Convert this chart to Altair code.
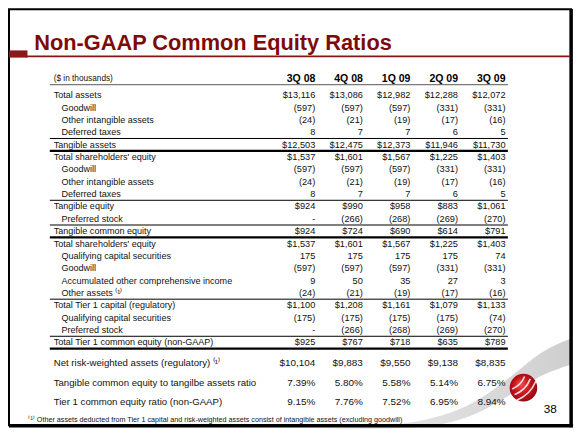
import altair as alt
import pandas as pd

# ---------------- data ----------------
periods = ["3Q 08", "4Q 08", "1Q 09", "2Q 09", "3Q 09"]

row_labels = [
    "Total assets", "Goodwill", "Other intangible assets", "Deferred taxes",
    "Tangible assets",
    "Total shareholders' equity", "Goodwill", "Other intangible assets", "Deferred taxes",
    "Tangible equity", "Preferred stock",
    "Tangible common equity",
    "Total shareholders' equity", "Qualifying capital securities", "Goodwill",
    "Accumulated other comprehensive income", "Other assets \u207d\u00b9\u207e",
    "Total Tier 1 capital (regulatory)", "Qualifying capital securities", "Preferred stock",
    "Total Tier 1 common equity (non-GAAP)",
    "Net risk-weighted assets (regulatory) \u207d\u00b9\u207e",
    "Tangible common equity to tangilbe assets ratio",
    "Tier 1 common equity ratio (non-GAAP)",
]
row_indent = [0, 1, 1, 1, 0, 0, 1, 1, 1, 0, 1, 0, 0, 1, 1, 1, 1, 0, 1, 1, 0, 0, 0, 0]
row_kind = ["$", "n", "n", "n", "$", "$", "n", "n", "n", "$", "n", "$",
            "$", "n", "n", "n", "n", "$", "n", "n", "$", "$", "%", "%"]

v_3q08 = [13116, -597, -24, 8, 12503, 1537, -597, -24, 8, 924, 0, 924,
          1537, 175, -597, 9, -24, 1100, -175, 0, 925, 10104, 7.39, 9.15]
v_4q08 = [13086, -597, -21, 7, 12475, 1601, -597, -21, 7, 990, -266, 724,
          1601, 175, -597, 50, -21, 1208, -175, -266, 767, 9883, 5.80, 7.76]
v_1q09 = [12982, -597, -19, 7, 12373, 1567, -597, -19, 7, 958, -268, 690,
          1567, 175, -597, 35, -19, 1161, -175, -268, 718, 9550, 5.58, 7.52]
v_2q09 = [12288, -331, -17, 6, 11946, 1225, -331, -17, 6, 883, -269, 614,
          1225, 175, -331, 27, -17, 1079, -175, -269, 635, 9138, 5.14, 6.95]
v_3q09 = [12072, -331, -16, 5, 11730, 1403, -331, -16, 5, 1061, -270, 791,
          1403, 74, -331, 3, -16, 1133, -74, -270, 789, 8835, 6.75, 8.94]
series = [v_3q08, v_4q08, v_1q09, v_2q09, v_3q09]

thin_after = [3, 8, 10, 16, 19]
thick_after = [4, 11, 20]

title_text = "Non-GAAP Common Equity Ratios"
units_text = "($ in thousands)"
footnote_text = ("\u207d\u00b9\u207e Other assets deducted from Tier 1 capital and risk-weighted "
                 "assets consist of intangible assets (excluding goodwill)")
page_text = "38"

# ---------------- layout / style ----------------
W, H = 567, 423
SX, SY = W / 583, H / 439
FONT = "Liberation Sans"
DARK_RED = "#7f0a0a"
TXT = "#111111"

Y0, ROWH = 90.5, 12.83
row_pos = list(range(21)) + [21.63, 23.27, 24.82]
HEADER_POS = -1.33
HEADER_LINE_POS = -0.86
lab_fs = [9.3 * SX] * 21 + [9.9 * SX] * 3
val_fs = [9.5 * SX] * 21 + [10.2 * SX] * 3

def fmt(v, kind):
    if kind == "%":
        return f"{v:.2f}%"
    if v == 0:
        return "-"
    s = f"{abs(v):,}"
    if v < 0:
        return f"({s})"
    return "$" + s if kind == "$" else s

yscale = alt.Scale(domain=[(0 - Y0) / ROWH, (439 - Y0) / ROWH], reverse=True, nice=False, zero=False)
col_scale = alt.Scale(domain=[0, 4], range=[316 * SX, 511.6 * SX], nice=False, zero=False)
ind_scale = alt.Scale(domain=[0, 1], range=[47 * SX, 55 * SX])

labels_df = pd.DataFrame({"label": row_labels, "indent": row_indent, "pos": row_pos, "fs": lab_fs})

vals = []
for c, ser in enumerate(series):
    for r, (v, kind) in enumerate(zip(ser, row_kind)):
        t = fmt(v, kind)
        pad = 0 if (t.endswith(")") or t.endswith("%")) else (13 if t == "-" else 3)
        vals.append({"col": c, "pos": row_pos[r], "txt": t, "off": -pad * SX, "fs": val_fs[r]})
vals_df = pd.DataFrame(vals)

head_df = pd.DataFrame({"col": list(range(5)), "txt": periods, "pos": [HEADER_POS] * 5,
                        "off": [-3 * SX] * 5})

sep_df = pd.DataFrame(
    [{"pos": p + 0.5, "w": 1.0, "c": "#000000"} for p in thin_after]
    + [{"pos": p + 0.5, "w": 2.4, "c": "#000000"} for p in thick_after]
    + [{"pos": HEADER_LINE_POS, "w": 1.2, "c": "#7a7a7a"}]
)

one = pd.DataFrame({"k": [0]})

# swoosh (decorative background band)
sw_x = [285, 340, 390, 430, 465, 495, 520, 548, 579]
sw_top = [437.5, 436, 433, 427, 416, 399, 380, 358, 343]
sw_bot = [437.5, 437.5, 436.5, 434, 427, 414, 399, 382, 370]
sw_df = pd.DataFrame({"x": sw_x, "y": sw_top, "y2": sw_bot})
swoosh = alt.Chart(sw_df).mark_area(
    interpolate="monotone",
    color=alt.LinearGradient(gradient="linear",
                             stops=[alt.GradientStop(color="#ffffff", offset=0),
                                    alt.GradientStop(color="#e2e2e2", offset=0.45),
                                    alt.GradientStop(color="#cfcfcf", offset=1)],
                             x1=0, x2=1, y1=0, y2=0),
).encode(
    x=alt.X("x:Q", scale=alt.Scale(domain=[0, 583], range=[0, W], nice=False, zero=False), axis=None),
    y=alt.Y("y:Q", scale=alt.Scale(domain=[0, 439], range=[0, H], nice=False, zero=False), axis=None),
    y2="y2:Q",
)

# frame
frame = alt.Chart(one).mark_rect(filled=False, stroke="#000000", strokeWidth=2).encode(
    x=alt.value(1), y=alt.value(1.2), x2=alt.value(579 * SX), y2=alt.value(433 * SY))
frame_r = alt.Chart(one).mark_rule(color="#000000", strokeWidth=3.5).encode(
    x=alt.value(579 * SX), y=alt.value(1), y2=alt.value(435 * SY))
frame_b = alt.Chart(one).mark_rule(color="#000000", strokeWidth=3.5).encode(
    x=alt.value(1), x2=alt.value(581 * SX), y=alt.value(433.5 * SY))

# title and its rule
title = alt.Chart(one).mark_text(
    align="left", baseline="alphabetic", font=FONT, fontWeight="bold",
    fontSize=22.4 * SX, color=DARK_RED,
).encode(x=alt.value(27 * SX), y=alt.value(44 * SY), text=alt.value(title_text))
title_rule = alt.Chart(one).mark_rule(color="#8a1515", strokeWidth=1.6).encode(
    x=alt.value(18 * SX), x2=alt.value(578 * SX), y=alt.value(50.2 * SY))
title_block = alt.Chart(one).mark_rect(color="#8a1a1a").encode(
    x=alt.value(1), x2=alt.value(20 * SX), y=alt.value(44 * SY), y2=alt.value(51.5 * SY))

# table
seps = alt.Chart(sep_df).mark_rule().encode(
    y=alt.Y("pos:Q", scale=yscale, axis=None),
    x=alt.value(43 * SX), x2=alt.value(514 * SX),
    size=alt.Size("w:Q", scale=None, legend=None),
    color=alt.Color("c:N", scale=None, legend=None),
)
labels = alt.Chart(labels_df).mark_text(align="left", baseline="middle", font=FONT, color=TXT).encode(
    x=alt.X("indent:Q", scale=ind_scale, axis=None),
    y=alt.Y("pos:Q", scale=yscale, axis=None),
    text="label:N",
    size=alt.Size("fs:Q", scale=None, legend=None),
)
units = alt.Chart(one).mark_text(align="left", baseline="middle", font=FONT, fontSize=8.5 * SX,
                                  color=TXT).encode(
    x=alt.value(47 * SX), y=alt.Y("p:Q", scale=yscale, axis=None), text=alt.value(units_text)
).transform_calculate(p=str(HEADER_POS))
values = alt.Chart(vals_df).mark_text(align="right", baseline="middle", font=FONT, color=TXT).encode(
    x=alt.X("col:Q", scale=col_scale, axis=None),
    xOffset=alt.XOffset("off:Q", scale=None),
    y=alt.Y("pos:Q", scale=yscale, axis=None),
    text="txt:N",
    size=alt.Size("fs:Q", scale=None, legend=None),
)
headers = alt.Chart(head_df).mark_text(align="right", baseline="middle", font=FONT, fontWeight="bold",
                                        fontSize=10.8 * SX, color="#000000").encode(
    x=alt.X("col:Q", scale=col_scale, axis=None),
    xOffset=alt.XOffset("off:Q", scale=None),
    y=alt.Y("pos:Q", scale=yscale, axis=None),
    text="txt:N",
)

# footnote and page number
footnote = alt.Chart(one).mark_text(align="left", baseline="middle", font=FONT, fontSize=7.4 * SX,
                                     color=TXT).encode(
    x=alt.value(21 * SX), y=alt.value(428 * SY), text=alt.value(footnote_text))
page = alt.Chart(one).mark_text(align="center", baseline="middle", font=FONT, fontSize=12 * SX,
                                 color="#000000").encode(
    x=alt.value(557.5 * SX), y=alt.value(416 * SY), text=alt.value(page_text))

# ball logo
BX, BY, BR = 530 * SX, 394 * SY, 16 * SX
ball = alt.Chart(one).mark_circle(
    size=3.14159 * BR * BR, opacity=1,
    color=alt.RadialGradient(gradient="radial",
                             stops=[alt.GradientStop(color="#f25050", offset=0),
                                    alt.GradientStop(color="#c8141c", offset=0.55),
                                    alt.GradientStop(color="#8c0a10", offset=1)],
                             x1=0.38, y1=0.35, r1=0, x2=0.5, y2=0.5, r2=0.55),
).encode(x=alt.value(BX), y=alt.value(BY))

stripe_layers = []
for R in [22, 28.3, 34.5]:
    stripe_layers.append(
        alt.Chart(one).mark_arc(
            theta=1.95, theta2=2.76, radius=R * SX, radius2=(R + 1.6) * SX,
            color="#ffffff", opacity=0.85,
        ).encode(x=alt.value(BX - 20 * SX), y=alt.value(BY - 20 * SY))
    )

chart = alt.layer(
    swoosh, frame, frame_r, frame_b, title_block, title_rule, title,
    seps, labels, units, values, headers, footnote, page, ball, *stripe_layers,
).resolve_scale(
    x="independent", y="independent"
).properties(
    width=W, height=H, autosize=alt.AutoSizeParams(type="none"), padding=0, background="#ffffff"
).configure_view(stroke=None)

chart.save("out.html", embed_options={"renderer": "svg", "actions": False})
